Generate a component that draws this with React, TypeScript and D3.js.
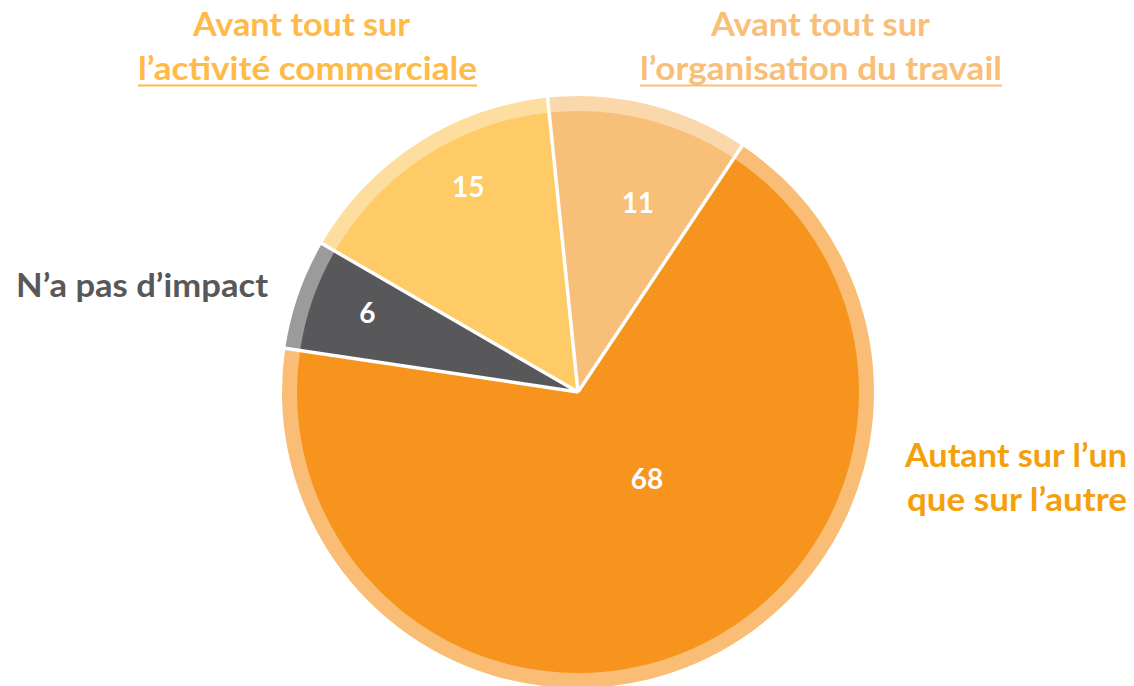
import React, { useEffect, useRef } from "react";
import * as d3 from "d3";

// slices, clockwise from a little left of 12 o'clock
const categories = [
  "Avant tout sur l’organisation du travail",
  "Autant sur l’un que sur l’autre",
  "N’a pas d’impact",
  "Avant tout sur l’activité commerciale",
];
const values = [11, 68, 6, 15];
const sliceColors = ["#F8BF78", "#F7941D", "#58585A", "#FECB66"];
const ringColors = ["#FBD8AB", "#F9BD76", "#9B9B9C", "#FEDE9E"];

// value label placement: [radius, angle offset in degrees from slice middle]
const valueLabelPos: [number, number][] = [
  [198, 3.7],
  [111, -14.5],
  [225, 1.3],
  [233, 4.8],
];

// category label lines: text, x start, baseline, width
const titleColors = ["#F9BE78", "#F4A00C", "#58585A", "#FFBA48"];
const titleLines: [string, number, number, number][][] = [
  [
    ["Avant tout sur", 711, 36, 219],
    ["l’organisation du travail", 640, 80, 362],
  ],
  [
    ["Autant sur l’un", 905, 467, 222],
    ["que sur l’autre", 907, 511, 220],
  ],
  [["N’a pas d’impact", 16, 297, 252]],
  [
    ["Avant tout sur", 193, 36, 217],
    ["l’activité commerciale", 138, 80, 339],
  ],
];
const underlined = [true, false, false, true];

const W = 1134;
const H = 686;

const App = () => {
  const ref = useRef<SVGSVGElement>(null);

  useEffect(() => {
    const svg = d3.select(ref.current);
    svg.selectAll("*").remove();

    const cx = 578;
    const cy = 392;
    const rIn = 281;
    const rOut = 296;

    const pie = d3
      .pie<number>()
      .sort(null)
      .startAngle((-5.9 * Math.PI) / 180)
      .endAngle((354.1 * Math.PI) / 180);
    const arcs = pie(values);

    const g = svg.append("g").attr("transform", `translate(${cx},${cy})`);

    const ring = d3.arc<d3.PieArcDatum<number>>().innerRadius(rIn - 1).outerRadius(rOut);
    const slice = d3.arc<d3.PieArcDatum<number>>().innerRadius(0).outerRadius(rIn);

    g.selectAll("path.ring")
      .data(arcs)
      .join("path")
      .attr("class", "ring")
      .attr("d", ring)
      .attr("fill", (d, i) => ringColors[i]);

    g.selectAll("path.slice")
      .data(arcs)
      .join("path")
      .attr("class", "slice")
      .attr("d", slice)
      .attr("fill", (d, i) => sliceColors[i]);

    // white separators through slices and ring
    g.selectAll("line.sep")
      .data(arcs)
      .join("line")
      .attr("x1", 0)
      .attr("y1", 0)
      .attr("x2", (d) => Math.sin(d.startAngle) * (rOut + 2))
      .attr("y2", (d) => -Math.cos(d.startAngle) * (rOut + 2))
      .attr("stroke", "#fff")
      .attr("stroke-width", 3.5);

    g.selectAll("text.val")
      .data(arcs)
      .join("text")
      .attr("class", "val")
      .attr("x", (d, i) => {
        const a = (d.startAngle + d.endAngle) / 2 + (valueLabelPos[i][1] * Math.PI) / 180;
        return Math.sin(a) * valueLabelPos[i][0];
      })
      .attr("y", (d, i) => {
        const a = (d.startAngle + d.endAngle) / 2 + (valueLabelPos[i][1] * Math.PI) / 180;
        return -Math.cos(a) * valueLabelPos[i][0];
      })
      .attr("dy", "0.36em")
      .attr("text-anchor", "middle")
      .attr("fill", "#fff")
      .style("font", "bold 28px Lato, 'Open Sans', sans-serif")
      .text((d) => d.data);

    const labels = svg.append("g");
    titleLines.forEach((lines, i) => {
      lines.forEach(([txt, x, y, w], j) => {
        labels
          .append("text")
          .attr("x", x)
          .attr("y", y)
          .attr("textLength", w)
          .attr("lengthAdjust", "spacingAndGlyphs")
          .attr("fill", titleColors[i])
          .style("font", "bold 33px Lato, 'Open Sans', sans-serif")
          .text(txt);
        if (underlined[i] && j === lines.length - 1) {
          labels
            .append("line")
            .attr("x1", x)
            .attr("x2", x + w)
            .attr("y1", y + 5.5)
            .attr("y2", y + 5.5)
            .attr("stroke", titleColors[i])
            .attr("stroke-width", 2);
        }
      });
    });
  }, []);

  return (
    <svg
      ref={ref}
      width={W}
      height={H}
      style={{ position: "absolute", left: 0, top: 0, background: "#fff" }}
    />
  );
};

export default App;
